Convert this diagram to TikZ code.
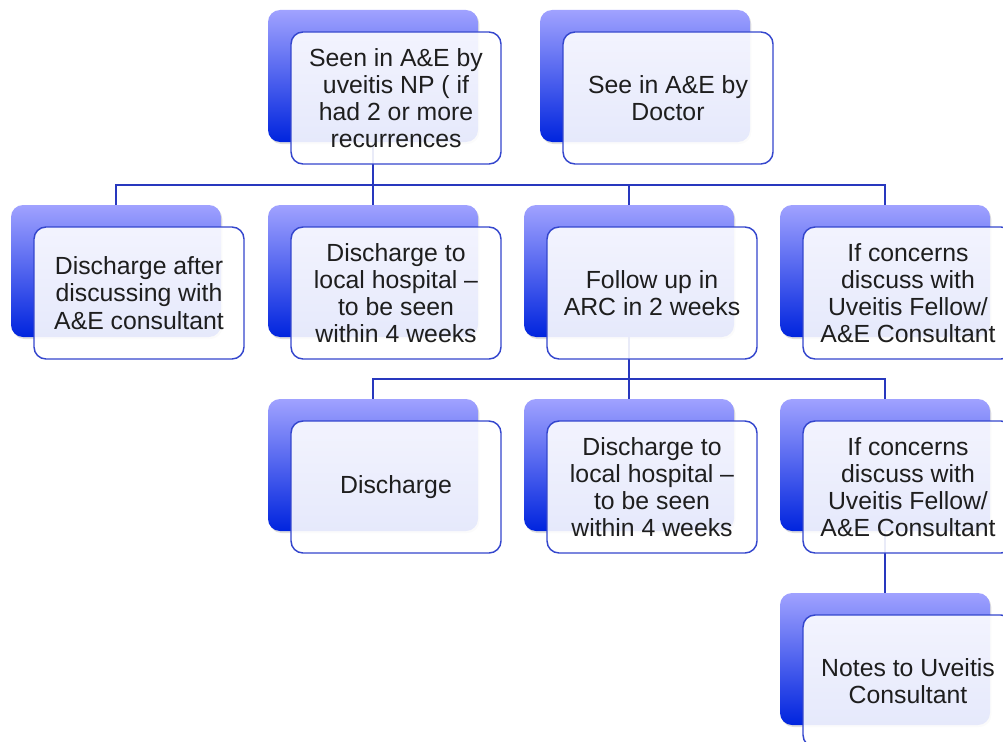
\documentclass[tikz,border=0pt]{standalone}
\usepackage{fontspec}
\setmainfont{Liberation Sans}
\usepackage{tikz}
\usetikzlibrary{shadows}

\definecolor{boxtop}{RGB}{160,162,255}
\definecolor{boxbottom}{RGB}{0,36,222}
\definecolor{boxline}{RGB}{52,70,205}
\definecolor{linkline}{RGB}{40,56,190}
\definecolor{boxtext}{RGB}{30,30,30}

\tikzset{
  backbox/.style={rounded corners=9pt, minimum width=157.5pt, minimum height=99pt,
    inner sep=0pt, top color=boxtop, bottom color=boxbottom, draw=none,
    drop shadow={opacity=0.25, shadow xshift=1pt, shadow yshift=-1.5pt}},
  frontbox/.style={rounded corners=9pt, minimum width=157.5pt, minimum height=99pt,
    inner sep=0pt, draw=boxline, line width=1.1pt, fill=white, fill opacity=0.9,
    text opacity=1, text=boxtext, align=center,
    font=\fontsize{18.6}{20.4}\selectfont},
  link/.style={draw=linkline, line width=1.1pt}
}

\begin{document}
\begin{tikzpicture}[x=0.75pt,y=-0.75pt]
  \useasboundingbox (0,0) rectangle (1003,742);
  \clip (0,0) rectangle (1003,742);

  % back boxes
  \node[backbox] (seenback)   at (373,76)  {};
  \node[backbox] (doctorback) at (645,76)  {};
  \node[backbox] (afterback)  at (116,271) {};
  \node[backbox] (localback)  at (373,271) {};
  \node[backbox] (arcback)    at (629,271) {};
  \node[backbox] (fellowback) at (885,271) {};
  \node[backbox] (dischback)  at (373,465) {};
  \node[backbox] (local2back) at (629,465) {};
  \node[backbox] (fellow2back) at (885,465) {};
  \node[backbox] (notesback)  at (885,659) {};

  % connectors
  \coordinate (topbus) at (373,185);
  \coordinate (arcbus) at (629,379);
  \draw[link] (seenback.south) -- (topbus);
  \draw[link] (topbus) -| (afterback.north);
  \draw[link] (topbus) -- (localback.north);
  \draw[link] (topbus) -| (arcback.north);
  \draw[link] (topbus) -| (fellowback.north);
  \draw[link] (arcback.south) -- (arcbus);
  \draw[link] (arcbus) -| (dischback.north);
  \draw[link] (arcbus) -- (local2back.north);
  \draw[link] (arcbus) -| (fellow2back.north);
  \draw[link] (fellow2back.south) -- (notesback.north);

  % front boxes
  \node[frontbox] (seen) at ([shift={(23,22)}]seenback)
    {Seen in A\&E by\\uveitis NP ( if\\had 2 or more\\recurrences};
  \node[frontbox] (doctor) at ([shift={(23,22)}]doctorback)
    {See in A\&E by\\Doctor};
  \node[frontbox] (after) at ([shift={(23,22)}]afterback)
    {Discharge after\\discussing with\\A\&E consultant};
  \node[frontbox] (local) at ([shift={(23,22)}]localback)
    {Discharge to\\local hospital --\\to be seen\\within 4 weeks};
  \node[frontbox] (arc) at ([shift={(23,22)}]arcback)
    {Follow up in\\ARC in 2 weeks};
  \node[frontbox] (fellow) at ([shift={(23,22)}]fellowback)
    {If concerns\\discuss with\\Uveitis Fellow/\\A\&E Consultant};
  \node[frontbox] (disch) at ([shift={(23,22)}]dischback)
    {Discharge};
  \node[frontbox] (local2) at ([shift={(23,22)}]local2back)
    {Discharge to\\local hospital --\\to be seen\\within 4 weeks};
  \node[frontbox] (fellow2) at ([shift={(23,22)}]fellow2back)
    {If concerns\\discuss with\\Uveitis Fellow/\\A\&E Consultant};
  \node[frontbox] (notes) at ([shift={(23,22)}]notesback)
    {Notes to Uveitis\\Consultant};
\end{tikzpicture}
\end{document}
